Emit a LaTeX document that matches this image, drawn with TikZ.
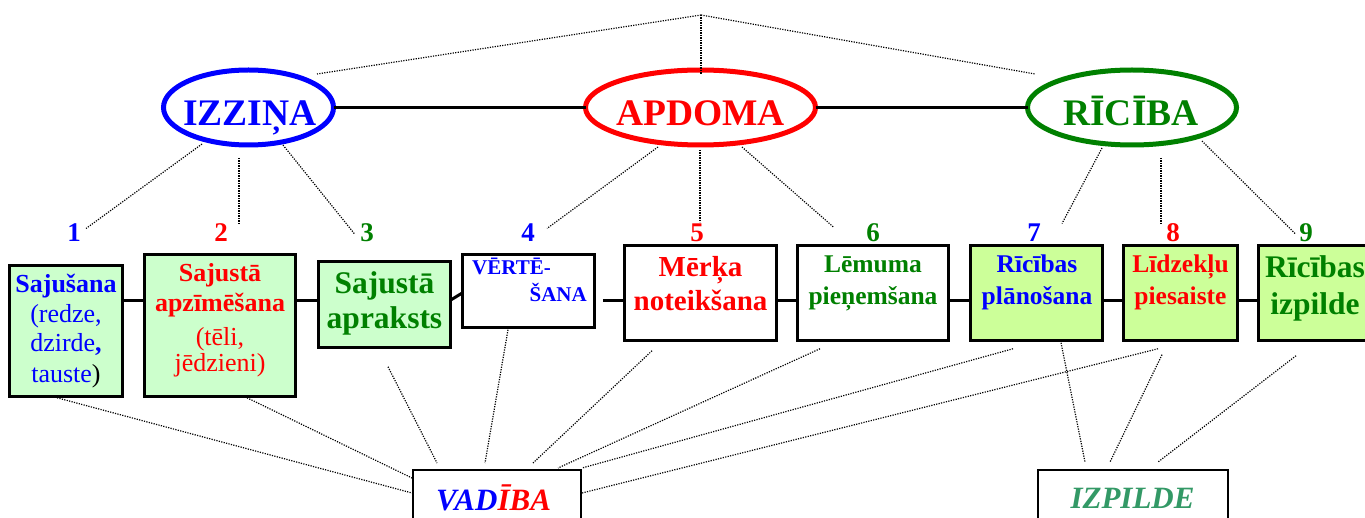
\documentclass[tikz,border=0pt]{standalone}
\usepackage{fontspec}
\setmainfont{Liberation Serif}
\usetikzlibrary{shapes.geometric,calc}
\definecolor{cblue}{HTML}{0000FF}
\definecolor{cred}{HTML}{FF0000}
\definecolor{cgreen}{HTML}{008000}
\definecolor{sea}{HTML}{339966}
\definecolor{lgreen}{HTML}{CCFFCC}
\definecolor{lyel}{HTML}{CCFF99}
\begin{document}
\begin{tikzpicture}[x=1pt,y=-1pt,
  ell/.style={ellipse,draw,line width=5pt,inner sep=0pt,outer sep=0pt,minimum height=75pt},
  box/.style={rectangle,draw=black,line width=2.8pt,inner sep=0pt,outer sep=0pt},
  lowbox/.style={rectangle,draw=black,line width=2.2pt,inner sep=0pt,outer sep=0pt,minimum height=74pt},
  conn/.style={line width=3pt,black},
  dots/.style={line width=1.2pt,dash pattern=on 1.2pt off 1.3pt},
  num/.style={inner sep=0pt,font=\fontsize{27}{27}\selectfont\bfseries},
  ttl/.style={inner sep=0pt,anchor=base,font=\fontsize{37.5}{37.5}\selectfont\bfseries},
  t/.style={inner sep=0pt,anchor=base},
  fa/.style={font=\fontsize{26}{26}\selectfont\bfseries},
  fr/.style={font=\fontsize{26}{26}\selectfont},
  fbig/.style={font=\fontsize{31.5}{31.5}\selectfont\bfseries},
  fsmall/.style={font=\fontsize{21}{21}\selectfont\bfseries},
  fmid/.style={font=\fontsize{29}{29}\selectfont\bfseries},
  fb/.style={font=\fontsize{25.5}{25.5}\selectfont\bfseries},
  fit/.style={font=\fontsize{31}{31}\selectfont\bfseries\itshape},
]
\useasboundingbox (0,0) rectangle (1365,518);

% ellipses
\node[ell,draw=cblue,minimum width=170pt] (izz) at (248.5,107.5) {};
\node[ell,draw=cred,minimum width=230pt] (apd) at (700.5,107.5) {};
\node[ell,draw=cgreen,minimum width=209pt] (ric) at (1132,107.5) {};
\node[ttl,cblue] (izzt) at (250,126) {IZZIŅA};
\node[ttl,cred] (apdt) at (700.5,126) {APDOMA};
\node[ttl,cgreen] (rict) at (1131,126) {RĪCĪBA};
\draw[conn] (izz.east) -- (apd.west);
\draw[conn] (apd.east) -- (ric.west);

% apex
\coordinate (apex) at (701,15);
\draw[dots] (apex) -- ($(izz)+(68.5,-33.5)$);
\draw[dots] (apex) -- ($(apd)+(0.5,-33.5)$);
\draw[dots] (apex) -- ($(ric)+(-97,-33.5)$);

% numbers
\node[num,cblue]  (n1) at (74,232.5) {1};
\node[num,cred]   (n2) at (221,232.5) {2};
\node[num,cgreen] (n3) at (367,232.5) {3};
\node[num,cblue]  (n4) at (528,232.5) {4};
\node[num,cred]   (n5) at (697,232.5) {5};
\node[num,cgreen] (n6) at (873,232.5) {6};
\node[num,cblue]  (n7) at (1034,232.5) {7};
\node[num,cred]   (n8) at (1173,232.5) {8};
\node[num,cgreen] (n9) at (1306,232.5) {9};

% ellipse -> numbers
\draw[dots] ($(izz)+(-46.5,36.5)$) -- ($(n1)+(12,-4)$);
\draw[dots] ($(izz)+(-9.5,50.5)$) -- ($(n2)+(18,-9)$);
\draw[dots] ($(izz)+(34.5,37.5)$) -- ($(n3)+(-12,2)$);
\draw[dots] ($(apd)+(-42.5,39.5)$) -- ($(n4)+(19,-4)$);
\draw[dots] ($(apd)+(-0.5,42.5)$) -- ($(n5)+(3,-10)$);
\draw[dots] ($(apd)+(41.5,39.5)$) -- ($(n6)+(-39,-5)$);
\draw[dots] ($(ric)+(-30,40.5)$) -- ($(n7)+(28,-9)$);
\draw[dots] ($(ric)+(29,50.5)$) -- ($(n8)+(-12,-8)$);
\draw[dots] ($(ric)+(70,33.5)$) -- ($(n9)+(-11,1)$);

% boxes
\node[box,fill=lgreen,minimum width=113.5pt,minimum height=131.5pt] (b1) at (66,331) {};
\node[box,fill=lgreen,minimum width=151.5pt,minimum height=142.5pt] (b2) at (220,325.5) {};
\node[box,fill=lgreen,minimum width=132.5pt,minimum height=86.5pt] (b3) at (384.5,304.5) {};
\node[box,fill=white,minimum width=132.5pt,minimum height=73.5pt] (b4) at (528.5,291) {};
\node[box,fill=white,minimum width=152.5pt,minimum height=95.5pt] (b5) at (700.5,293) {};
\node[box,fill=white,minimum width=151.5pt,minimum height=95.5pt] (b6) at (873,293) {};
\node[box,fill=lyel,minimum width=132.5pt,minimum height=95.5pt] (b7) at (1036.5,293) {};
\node[box,fill=lyel,minimum width=114.5pt,minimum height=95.5pt] (b8) at (1180.5,293) {};
\node[box,fill=lyel,minimum width=113.5pt,minimum height=95.5pt] (b9) at (1315,293) {};

% box texts
\node[t,fa,cblue] at (66,293) {Sajušana};
\node[t,fr,cblue] at (66,323) {(redze,};
\node[t,fr,cblue] at (66,352) {dzirde{\bfseries ,}};
\node[t,fr,cblue] at (66,382) {tauste\textcolor{black}{)}};

\node[t,fa,cred] at (220,282) {Sajustā};
\node[t,fa,cred] at (220,312) {apzīmēšana};
\node[t,fr,cred] at (220,345) {(tēli,};
\node[t,fr,cred] at (220,372) {jēdzieni)};

\node[t,fbig,cgreen] at (384.5,294) {Sajustā};
\node[t,fbig,cgreen] at (384.5,329) {apraksts};

\node[t,fsmall,cblue,anchor=base west] at (472,275) {VĒRTĒ-};
\node[t,fsmall,cblue,anchor=base east] at (587,302) {ŠANA};

\node[t,fmid,cred] at (700.5,277) {Mērķa};
\node[t,fmid,cred] at (700.5,311) {noteikšana};

\node[t,fb,cgreen] at (873,273) {Lēmuma};
\node[t,fb,cgreen] at (873,305) {pieņemšana};

\node[t,fb,cblue] at (1037,273) {Rīcības};
\node[t,fb,cblue] at (1037,305) {plānošana};

\node[t,fb,cred] at (1180.5,273) {Līdzekļu};
\node[t,fb,cred] at (1180.5,305) {piesaiste};

\node[t,fbig,cgreen] at (1315,278) {Rīcības};
\node[t,fbig,cgreen] at (1315,315) {izpilde};

% box connectors
\coordinate (lvl) at (0,301);
\draw[conn] (b1.east |- lvl) -- (b2.west |- lvl);
\draw[conn] (b2.east |- lvl) -- (b3.west |- lvl);
\draw[conn] ($(b3.east)+(0,-4.5)$) -- ($(b4.west)+(0,2)$);
\draw[conn] ($(b4.east |- lvl)+(8,0)$) -- (b5.west |- lvl);
\draw[conn] (b5.east |- lvl) -- (b6.west |- lvl);
\draw[conn] (b6.east |- lvl) -- (b7.west |- lvl);
\draw[conn] (b7.east |- lvl) -- (b8.west |- lvl);
\draw[conn] (b8.east |- lvl) -- (b9.west |- lvl);

% bottom boxes
\node[lowbox,fill=white,minimum width=168pt] (vad) at (497,507) {};
\node[t,fit] (vadt) at (493.5,510) {\textcolor{cblue}{VAD}\textcolor{cred}{ĪBA}};
\node[lowbox,fill=white,minimum width=190pt] (izp) at (1133,507) {};
\node[t,fit,sea] (izpt) at (1132.5,508) {IZPILDE};

% bottom dotted connectors
\draw[dots] ($(b1.south)+(-9,1)$) -- ($(vad.north west)+(-1,23)$);
\draw[dots] ($(b2.south)+(27,1)$) -- ($(vad.north west)+(-1,8)$);
\draw[dots] ($(b3.south)+(3.5,19)$) -- ($(vad.north west)+(24,-7)$);
\draw[dots] ($(b4.south)+(-20.5,2)$) -- ($(vad.north west)+(72,-7)$);
\draw[dots] ($(b5.south)+(-48.5,10)$) -- ($(vad.north west)+(120,-7)$);
\draw[dots] ($(b6.south)+(-53,8)$) -- ($(vad.north east)+(-23,-2)$);
\draw[dots] ($(b7.south)+(-23.5,8)$) -- ($(vad.north east)+(1,-2)$);
\draw[dots] ($(b8.south)+(-22.5,8)$) -- ($(vad.north east)+(1,23)$);
\draw[dots] ($(b7.south)+(24.5,2)$) -- ($(izp.north west)+(47,-8)$);
\draw[dots] ($(b8.south)+(-18.5,14)$) -- ($(izp.north west)+(72,-8)$);
\draw[dots] ($(b9.south)+(-19,15)$) -- ($(izp.north west)+(120,-8)$);
\end{tikzpicture}
\end{document}
